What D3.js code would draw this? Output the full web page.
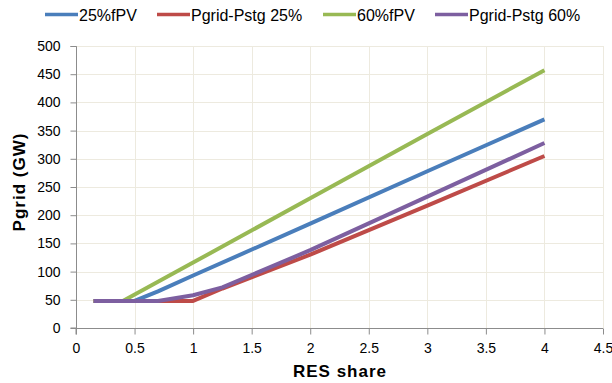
<!DOCTYPE html>
<html>
<head>
<meta charset="utf-8">
<script src="https://cdn.jsdelivr.net/npm/d3@7"></script>
<style>
  body { margin: 0; background: #fff; }
  svg { display: block; font-family: "Liberation Sans", Arial, sans-serif; }
</style>
</head>
<body>
<svg id="chart" width="612" height="383"></svg>
<script>
// Grid power versus RES share
const seriesNames = ["25%fPV", "Pgrid-Pstg 25%", "60%fPV", "Pgrid-Pstg 60%"];
const seriesColors = ["#4A7EBB", "#BE4B48", "#98B954", "#7D5FA0"];

const xBlue = [0.15, 0.5, 0.7, 1, 2, 3, 4];
const yBlue = [48, 48, 65, 93, 185, 278, 370];
const xRed = [0.15, 0.7, 1, 1.25, 2, 3, 4];
const yRed = [48, 48, 48, 70, 130, 217, 305];
const xGreen = [0.15, 0.4, 0.7, 1, 2, 3, 4];
const yGreen = [48, 48, 82, 116, 230, 344, 457];
const xPurple = [0.15, 0.7, 1, 1.25, 2, 3, 4];
const yPurple = [48, 48, 58, 72, 138, 233, 328];

const xTicks = [0, 0.5, 1, 1.5, 2, 2.5, 3, 3.5, 4, 4.5];
const yTicks = [0, 50, 100, 150, 200, 250, 300, 350, 400, 450, 500];

const seriesX = [xBlue, xRed, xGreen, xPurple];
const seriesY = [yBlue, yRed, yGreen, yPurple];

const svg = d3.select("#chart");
const plotLeft = 76, plotRight = 603, plotTop = 46, plotBottom = 328;

const x = d3.scaleLinear().domain([0, 4.5]).range([plotLeft, plotRight]);
const y = d3.scaleLinear().domain([0, 500]).range([plotBottom, plotTop]);

// gridlines
const grid = svg.append("g").attr("stroke", "#EDEADF").attr("stroke-width", 1);
grid.selectAll("line.h").data(yTicks.slice(1)).join("line").attr("class", "h")
  .attr("x1", plotLeft).attr("x2", plotRight)
  .attr("y1", d => Math.round(y(d)) + 0.5).attr("y2", d => Math.round(y(d)) + 0.5);
grid.selectAll("line.v").data(xTicks.slice(1)).join("line").attr("class", "v")
  .attr("y1", plotTop).attr("y2", plotBottom)
  .attr("x1", d => Math.round(x(d)) + 0.5).attr("x2", d => Math.round(x(d)) + 0.5);

// axes
const yAxis = svg.append("g")
  .attr("transform", `translate(${plotLeft + 0.5},0)`)
  .call(d3.axisLeft(y).tickValues(yTicks).tickSize(6).tickPadding(10).tickFormat(d3.format("d")));
const xAxis = svg.append("g")
  .attr("transform", `translate(0,${plotBottom + 0.5})`)
  .call(d3.axisBottom(x).tickValues(xTicks).tickSize(6).tickPadding(9).tickFormat(d => String(d)));
[yAxis, xAxis].forEach(a => {
  a.select(".domain").attr("stroke", "#8C8C8C");
  a.selectAll(".tick line").attr("stroke", "#8C8C8C");
  a.selectAll(".tick text").attr("fill", "#000").attr("font-size", 14)
    .attr("font-family", "Liberation Sans, Arial, sans-serif");
});
yAxis.select(".domain").attr("d", `M-6,${plotTop + 0.5}H0V${plotBottom}H-6`);
xAxis.select(".domain").attr("d", `M${plotLeft},6V0H${plotRight}`);

// axis titles
svg.append("text").attr("x", 340).attr("y", 377).attr("text-anchor", "middle")
  .attr("font-size", 17).attr("font-weight", "bold").attr("letter-spacing", 1)
  .text("RES share");
svg.append("text").attr("transform", "translate(25,182) rotate(-90)").attr("text-anchor", "middle")
  .attr("font-size", 17).attr("font-weight", "bold").attr("letter-spacing", 1)
  .text("Pgrid (GW)");

// series lines
const line = d3.line().x(d => x(d[0])).y(d => y(d[1]));
seriesNames.forEach((name, i) => {
  const pts = seriesX[i].map((v, j) => [v, seriesY[i][j]]);
  svg.append("path").datum(pts)
    .attr("d", line).attr("fill", "none")
    .attr("stroke", seriesColors[i]).attr("stroke-width", 4)
    .attr("stroke-linejoin", "round");
});

// legend
const legendX = [45, 157, 323, 435];
const legend = svg.append("g");
seriesNames.forEach((name, i) => {
  legend.append("line").attr("x1", legendX[i]).attr("x2", legendX[i] + 33)
    .attr("y1", 14.5).attr("y2", 14.5)
    .attr("stroke", seriesColors[i]).attr("stroke-width", 3.5);
  legend.append("text").attr("x", legendX[i] + 34).attr("y", 20.5)
    .attr("font-size", 16).attr("fill", "#000").text(name);
});
</script>
</body>
</html>
